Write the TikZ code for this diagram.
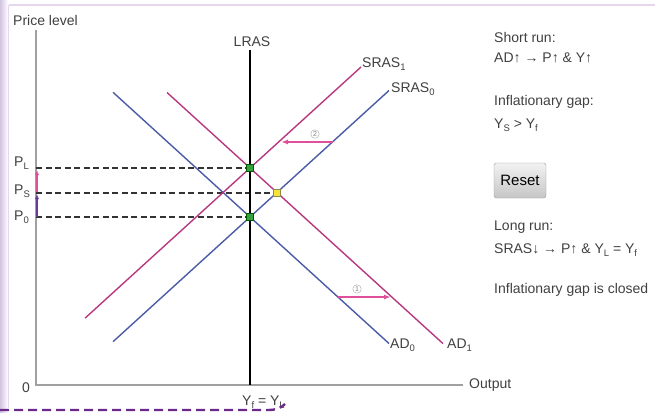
\documentclass[tikz,border=0pt]{standalone}
\usepackage{fontspec}
\setmainfont{Liberation Sans}
\usetikzlibrary{arrows.meta}
\definecolor{txt}{HTML}{404040}
\definecolor{axisgray}{HTML}{A0A0A0}
\definecolor{bluel}{HTML}{4B5BA6}
\definecolor{magl}{HTML}{B8387F}
\definecolor{pinka}{HTML}{E0509A}
\definecolor{purpa}{HTML}{6A3A9A}
\definecolor{frame}{HTML}{E6D6EE}
\definecolor{dashpurp}{HTML}{6A2A8A}
\definecolor{ptgreen}{HTML}{38A040}
\definecolor{ptyellow}{HTML}{F2E23A}
\newcommand\lblfont{\fontsize{14}{16}\selectfont}
\newcommand\sbs[1]{\raisebox{-0.5ex}{\fontsize{9.5}{10}\selectfont #1}}
\begin{document}
\begin{tikzpicture}[x=1pt,y=-1pt,
  lbl/.style={font=\lblfont, text=txt, inner sep=0pt},
  axisline/.style={draw=axisgray, line width=1.1pt},
  blueline/.style={draw=bluel, line width=1.4pt},
  magline/.style={draw=magl, line width=1.4pt},
  pdash/.style={draw=black!80, line width=1.2pt, dash pattern=on 6pt off 3.5pt},
  shiftarrow/.style={draw=pinka, line width=1.8pt, -{Latex[length=7pt,width=5pt]}},
  eqpt/.style={rectangle, minimum size=7pt, inner sep=0pt, line width=0.6pt},
  circnum/.style={circle, draw=gray!70, text=gray, inner sep=0.8pt, font=\fontsize{7}{7}\selectfont}]
\useasboundingbox (0,0) rectangle (655,412);
% frame
\shade[left color=purpa!30, right color=white] (0,0) rectangle (8,412);
\draw[frame, line width=1.5pt] (8.5,5) -- (655,5);
\draw[frame, line width=1.2pt] (8.5,5) -- (8.5,408);
% axes
\coordinate (O) at (36,385);
\coordinate (ytop) at (36,30);
\coordinate (xend) at (463,385);
\draw[axisline] (ytop) -- (O) -- (xend);
\node[lbl, anchor=base west] (ylab) at (13,26) {Price level};
\node[lbl, anchor=west] (xlab) at (469,385) {Output};
\node[lbl, anchor=base] (zero) at (26,392) {0};
% curve endpoints
\coordinate (ad0a) at (113,92.3);
\coordinate (ad0b) at (389,343.5);
\coordinate (s0a) at (113,341.7);
\coordinate (s0b) at (389,90.5);
\coordinate (ad1a) at (167,92.5);
\coordinate (ad1b) at (443,343.6);
\coordinate (s1a) at (85,318.2);
\coordinate (s1b) at (361,67);
\coordinate (lrtop) at (250,50);
\coordinate (lrbot) at (250,385);
% equilibrium points
\coordinate (E0) at (250,217);
\coordinate (E1) at (250,168);
\coordinate (ES) at (276.9,192.5);
\coordinate (yP0) at (36,217);
\coordinate (yPL) at (36,168);
\coordinate (yPS) at (36,192.5);
% dashed price lines
\draw[pdash] (yPL) -- (E1);
\draw[pdash, line width=2pt] (yPS) -- (ES);
\draw[pdash] (yP0) -- (E0);
% curves
\draw[blueline] (ad0a) -- (ad0b);
\draw[blueline] (s0a) -- (s0b);
\draw[magline] (ad1a) -- (ad1b);
\draw[magline] (s1a) -- (s1b);
\draw[draw=black, line width=1.6pt] (lrtop) -- (lrbot);
% curve labels
\node[lbl, anchor=base] (lras) at (252,47) {LRAS};
\node[lbl, anchor=base west] (sras1) at (362,67) {SRAS\sbs{1}};
\node[lbl, anchor=base west] (sras0) at (391,92) {SRAS\sbs{0}};
\node[lbl, anchor=base west] (ad0) at (390,348) {AD\sbs{0}};
\node[lbl, anchor=base west] (ad1) at (447,348) {AD\sbs{1}};
\node[lbl, anchor=base west] (yfl) at (242,405) {Y\sbs{f} = Y\sbs{L}};
% price labels
\node[lbl, anchor=base west] (pl) at (14,166) {P\sbs{L}};
\node[lbl, anchor=base west] (ps) at (14,194) {P\sbs{S}};
\node[lbl, anchor=base west] (p0) at (14,220) {P\sbs{0}};
% y-axis arrows
\draw[draw=purpa, line width=1.3pt, -{Latex[length=5pt,width=4pt]}] (37,217) -- (37,194);
\draw[draw=pinka, line width=1.3pt, -{Latex[length=5pt,width=4pt]}] (37,192) -- (37,170);
% shift arrows
\coordinate (a2s) at (332.5,142);
\coordinate (a2e) at (281,142);
\draw[shiftarrow] (a2s) -- (a2e);
\node[circnum] (c2) at (315,134) {2};
\coordinate (a1s) at (338,297);
\coordinate (a1e) at (391,297);
\draw[shiftarrow] (a1s) -- (a1e);
\node[circnum] (c1) at (357,289) {1};
% points
\node[eqpt, fill=ptgreen, draw=green!35!black] (pE1) at (E1) {};
\node[eqpt, fill=ptgreen, draw=green!35!black] (pE0) at (E0) {};
\node[eqpt, fill=ptyellow, draw=yellow!50!black] (pES) at (ES) {};
% right panel
\node[lbl, anchor=base west] (t1) at (494,42) {Short run:};
\node[lbl, anchor=base west] (t2) at (494,63) {AD↑ → P↑ \& Y↑};
\node[lbl, anchor=base west] (t3) at (494,105) {Inflationary gap:};
\node[lbl, anchor=base west] (t4) at (494,128) {Y\sbs{S} > Y\sbs{f}};
\node[draw=gray!80, rounded corners=2.5pt, top color=gray!10, bottom color=gray!45,
      minimum width=52pt, minimum height=35pt, inner sep=0pt,
      font=\fontsize{15}{16}\selectfont, text=black] (reset) at (520,180.5) {Reset};
\node[lbl, anchor=base west] (t5) at (494,230) {Long run:};
\node[lbl, anchor=base west] (t6) at (494,253) {SRAS↓ → P↑ \& Y\sbs{L} = Y\sbs{f}};
\node[lbl, anchor=base west] (t7) at (494,293) {Inflationary gap is closed};
% selection outline
\draw[dashpurp, line width=2.4pt, dash pattern=on 9pt off 5pt]
  (0,410) -- (268,410) .. controls (276,410) and (281,408) .. (285,404);
\end{tikzpicture}
\end{document}
